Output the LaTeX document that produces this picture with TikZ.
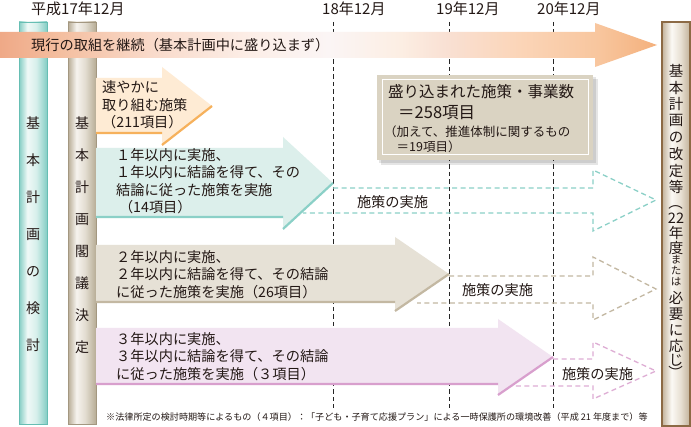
\documentclass[tikz,border=0pt]{standalone}
\usepackage{fontspec}
\setmainfont{Noto Sans CJK JP}
\usepackage{xcolor}
\usepackage{tikz}
\usetikzlibrary{calc}
\definecolor{planInk}{HTML}{231815}
\definecolor{planTeal}{HTML}{84CDC4}
\definecolor{planTealLt}{HTML}{F0F9F7}
\definecolor{planTealMd}{HTML}{D6EFEB}
\definecolor{planTealEdge}{HTML}{66BEB3}
\definecolor{planTan}{HTML}{B7AC95}
\definecolor{planTanLt}{HTML}{F6F3EE}
\definecolor{planTanMd}{HTML}{E2DCD0}
\definecolor{planTanEdge}{HTML}{A39780}
\definecolor{planBrown}{HTML}{8C6A45}
\definecolor{planBrownSh}{HTML}{C2B29A}
\definecolor{planBrownLt}{HTML}{FBF9F5}
\definecolor{planBrownMd}{HTML}{E8E0D3}
\definecolor{bandA}{HTML}{EFA987}
\definecolor{bandB}{HTML}{F4BE9F}
\definecolor{bandC}{HTML}{F9DACA}
\definecolor{bandD}{HTML}{FCEEE7}
\definecolor{bandE}{HTML}{FBF5F5}
\definecolor{bandF}{HTML}{FCEEE3}
\definecolor{bandG}{HTML}{F9E0D3}
\definecolor{bandH}{HTML}{FBD5B8}
\definecolor{bandI}{HTML}{F8C69E}
\definecolor{bandJ}{HTML}{F4B07C}
\definecolor{orgFill}{HTML}{FEEBD4}
\definecolor{orgLine}{HTML}{F6B15C}
\definecolor{tealFill}{HTML}{DCEFEB}
\definecolor{tealLine}{HTML}{8BD0C7}
\definecolor{tanFill}{HTML}{E6E1D6}
\definecolor{tanLine}{HTML}{C3B8A2}
\definecolor{pinkFill}{HTML}{F2E4F1}
\definecolor{pinkLine}{HTML}{D89FCD}
\definecolor{boxFill}{HTML}{DAD3C2}
\pgfdeclarehorizontalshading{tealcol}{100bp}{color(0bp)=(planTeal); color(25bp)=(planTeal); color(40bp)=(planTealLt); color(56bp)=(planTealMd); color(75bp)=(planTeal); color(100bp)=(planTeal)}
\pgfdeclarehorizontalshading{tancol}{100bp}{color(0bp)=(planTan); color(25bp)=(planTan); color(40bp)=(planTanLt); color(56bp)=(planTanMd); color(75bp)=(planTan); color(100bp)=(planTan)}
\pgfdeclarehorizontalshading{browncol}{100bp}{color(0bp)=(planBrownSh); color(25bp)=(planBrownSh); color(42bp)=(planBrownLt); color(58bp)=(planBrownMd); color(75bp)=(planBrownSh); color(100bp)=(planBrownSh)}
\pgfdeclarehorizontalshading{bandshade}{100bp}{color(0bp)=(bandA); color(25bp)=(bandA); color(29.5bp)=(bandB); color(36.5bp)=(bandC); color(44bp)=(bandD); color(50bp)=(bandE); color(55.5bp)=(bandF); color(59bp)=(bandG); color(64.5bp)=(bandH); color(70.5bp)=(bandI); color(75bp)=(bandJ); color(100bp)=(bandJ)}
\tikzset{
  yearline/.style={draw=black!85, line width=0.9pt, dash pattern=on 4.5pt off 3pt},
  pillar/.style={line width=0.8pt},
  piltext/.style={align=center, inner sep=0pt, text=planInk},
  revtext/.style={inner sep=0pt, text=planInk, font=\fontsize{14.5}{16}\selectfont},
  datelbl/.style={anchor=west, inner sep=0pt, text=planInk, font=\fontsize{15}{18}\selectfont},
  armtext/.style={anchor=west, align=left, inner sep=0pt, text=planInk, font=\fontsize{14.2}{17.4}\selectfont},
  arrowedge/.style={line width=2.2pt, line cap=butt},
  ghost/.style={line width=1.3pt, dash pattern=on 5pt off 3.5pt},
  dolbl/.style={inner sep=0pt, text=planInk, font=\fontsize{14.2}{17}\selectfont}
}
\begin{document}
\begin{tikzpicture}[x=1pt,y=-1pt]
\useasboundingbox (0,0) rectangle (691,427);
\fill[white] (0,0) rectangle (691,427);

% year lines
\foreach \xx in {333,449,553}
  \draw[yearline] (\xx,22) -- (\xx,408);

% pillars
\path[shading=tealcol] (19,22) rectangle (47,424);
\draw[pillar, planTealEdge] (19,22) rectangle (47,424);
\path[shading=tancol] (68,22) rectangle (96,424);
\draw[pillar, planTanEdge] (68,22) rectangle (96,424);
\path[shading=browncol] (662,22) rectangle (690,426);
\draw[pillar, planBrown, line width=1.2pt] (662,22) rectangle (690,426);

% current measures band
\path[shading=bandshade] (0,32) -- (595,32) -- (595,23) -- (657,45) -- (595,67) -- (595,58) -- (0,58) -- cycle;

% summary box
\fill[black, opacity=0.10] (381,79) rectangle (598,165);
\fill[black, opacity=0.10] (379,77) rectangle (596,163);
\fill[boxFill] (377,75) rectangle (593,160);
\draw[white, line width=1pt] (382,80) rectangle (588,155);

% follow-up (dashed) arrows
\draw[ghost, tealLine] (333,188) -- (593,188) -- (593,170) -- (656,200) -- (593,231) -- (593,213) -- (303,213);
\draw[ghost, tanLine] (449,276) -- (593,276) -- (593,257) -- (656,289) -- (593,320) -- (593,303) -- (417,303);
\draw[ghost, pinkLine!85] (553,359) -- (593,359) -- (593,342) -- (656,371) -- (593,399) -- (593,386) -- (510,386);

% solid arrows
\fill[orgFill] (96,78) -- (162,78) -- (162,67) -- (212,106) -- (162,145) -- (162,134) -- (96,134) -- cycle;
\draw[arrowedge, orgLine] (96,133) -- (162,133) (162,145) -- (212,106);
\fill[tealFill] (96,148) -- (283,148) -- (283,137) -- (333,183) -- (283,229) -- (283,218) -- (96,218) -- cycle;
\draw[arrowedge, tealLine] (96,217) -- (283,217) (283,229) -- (333,183);
\fill[tanFill] (96,245) -- (395,245) -- (395,237) -- (449,274) -- (395,311) -- (395,303) -- (96,303) -- cycle;
\draw[arrowedge, tanLine] (96,302) -- (395,302) (395,311) -- (449,274);
\fill[pinkFill] (96,328) -- (498,328) -- (498,319) -- (553,357) -- (498,395) -- (498,385) -- (96,385) -- cycle;
\draw[arrowedge, pinkLine] (96,384) -- (498,384) (498,395) -- (553,357);

% labels
\node[datelbl] (h17) at (31,9) {平成17年12月};
\node[datelbl] (h18) at (322,9) {18年12月};
\node[datelbl] (h19) at (436,9) {19年12月};
\node[datelbl] (h20) at (537,9) {20年12月};

\node[armtext] (carryon) at (31,45) {現行の取組を継続（基本計画中に盛り込まず）};

\node[piltext, font=\fontsize{14}{37}\selectfont] (review) at (33,234) {基\\本\\計\\画\\の\\検\\討};
\node[piltext, font=\fontsize{14}{32}\selectfont] (cabinet) at (82,235) {基\\本\\計\\画\\閣\\議\\決\\定};

\foreach \ch/\yy [count=\k] in {基/71,本/87.6,計/104.2,画/120.8,の/137.4,改/154,定/170.6,等/187,{\rotatebox{-90}{（}}/203,22/218,年/233,度/248,{\fontsize{10.5}{12}\selectfont ま}/260,{\fontsize{10.5}{12}\selectfont た}/271,{\fontsize{10.5}{12}\selectfont は}/282,必/298,要/314,に/330,応/346,じ/360,{\rotatebox{-90}{）}}/373}
  \node[revtext] (revise\k) at (676,\yy) {\ch};

\node[armtext] (quick) at (102,105) {速やかに\\取り組む施策\\（211項目）};
\node[armtext] (within1) at (116,181) {１年以内に実施、\\１年以内に結論を得て、その\\結論に従った施策を実施\\\hspace*{0.2em}（14項目）};
\node[armtext] (within2) at (116,274.5) {２年以内に実施、\\２年以内に結論を得て、その結論\\に従った施策を実施（26項目）};
\node[armtext] (within3) at (116,356.5) {３年以内に実施、\\３年以内に結論を得て、その結論\\に従った施策を実施（３項目）};

\node[dolbl] (do1) at (392.5,202) {施策の実施};
\node[dolbl] (do2) at (497.5,290) {施策の実施};
\node[dolbl] (do3) at (597.5,374) {施策の実施};

\node[anchor=west, inner sep=0pt, text=planInk, font=\fontsize{15.5}{18}\selectfont] (boxtitle) at (388,92) {盛り込まれた施策・事業数};
\node[anchor=west, inner sep=0pt, text=planInk, font=\fontsize{16.5}{19}\selectfont] (boxcount) at (398,113) {＝258項目};
\node[armtext, font=\fontsize{12.5}{15}\selectfont] (boxnote) at (384,139.5) {（加えて、推進体制に関するもの\\\hspace*{1em}＝19項目）};

\node[anchor=west, inner sep=0pt, text=planInk, font=\fontsize{9.1}{11}\selectfont] (footnote) at (106,417) {※法律所定の検討時期等によるもの（４項目）：「子ども・子育て応援プラン」による一時保護所の環境改善（平成 21 年度まで）等};

\end{tikzpicture}
\end{document}
